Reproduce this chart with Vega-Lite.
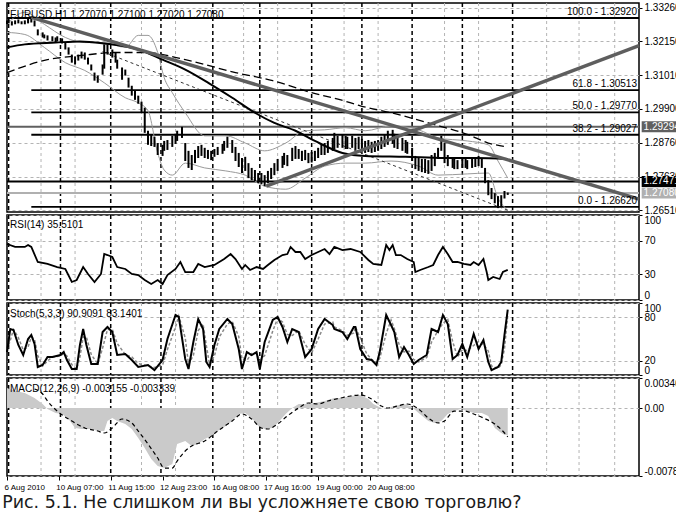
{
"$schema":"https://vega.github.io/schema/vega-lite/v6.json",
"background":"white",
"padding":{"left":2,"top":1,"right":0,"bottom":0},
"spacing":3,
"bounds":"flush",
"title":{"text":"Рис. 5.1. Не слишком ли вы усложняете свою торговлю?","orient":"bottom","anchor":"start","frame":"bounds","font":"DejaVu Sans","fontSize":17.4,"fontWeight":"normal","color":"#1a1a1a","offset":2},
"config":{"view":{"stroke":"#000","strokeWidth":1.5},
"axis":{"labelFont":"Liberation Sans","labelFontSize":10,"labelColor":"#000","tickColor":"#000","tickSize":3,"labelPadding":2,"domain":false,"gridColor":"#b4b4b4","gridDash":[3,3],"gridWidth":1,"labelOverlap":false},
"title":{"font":"Liberation Sans","fontSize":10,"fontWeight":"normal","color":"#000"}},
"datasets":{
"vgrid":[{"t":21},{"t":42},{"t":83},{"t":104},{"t":146},{"t":167},{"t":208},{"t":229},{"t":270},{"t":291},{"t":333},{"t":353},{"t":375}],
"vsep":[{"t":1},{"t":33},{"t":64},{"t":95},{"t":127},{"t":156},{"t":188},{"t":219},{"t":250},{"t":281},{"t":312}],
"bars":[{"t":0,"h":1.3284,"l":1.3271},{"t":1,"h":1.3287,"l":1.3274},{"t":3,"h":1.3281,"l":1.3267},{"t":5,"h":1.3284,"l":1.3271},{"t":7,"h":1.3287,"l":1.3274},{"t":9,"h":1.3281,"l":1.3271},{"t":11,"h":1.3284,"l":1.3271},{"t":13,"h":1.3291,"l":1.3274},{"t":15,"h":1.3298,"l":1.3277},{"t":17,"h":1.3284,"l":1.3264},{"t":19,"h":1.3254,"l":1.3234},{"t":22,"h":1.3244,"l":1.3227},{"t":23,"h":1.3237,"l":1.3224},{"t":25,"h":1.3234,"l":1.3217},{"t":28,"h":1.3231,"l":1.3214},{"t":30,"h":1.3227,"l":1.321},{"t":31,"h":1.3231,"l":1.3214},{"t":34,"h":1.3224,"l":1.3207},{"t":36,"h":1.321,"l":1.3187},{"t":38,"h":1.3194,"l":1.317},{"t":40,"h":1.317,"l":1.3143},{"t":42,"h":1.3164,"l":1.3137},{"t":44,"h":1.317,"l":1.315},{"t":46,"h":1.318,"l":1.3157},{"t":48,"h":1.3177,"l":1.3153},{"t":50,"h":1.316,"l":1.3137},{"t":52,"h":1.3137,"l":1.3117},{"t":54,"h":1.311,"l":1.3083},{"t":56,"h":1.31,"l":1.3076},{"t":59,"h":1.3137,"l":1.3103},{"t":60,"h":1.3204,"l":1.3123},{"t":62,"h":1.3204,"l":1.317},{"t":65,"h":1.3187,"l":1.316},{"t":67,"h":1.3177,"l":1.3143},{"t":68,"h":1.3153,"l":1.3123},{"t":71,"h":1.3127,"l":1.3086},{"t":73,"h":1.312,"l":1.31},{"t":75,"h":1.3093,"l":1.306},{"t":77,"h":1.3066,"l":1.3033},{"t":79,"h":1.305,"l":1.3019},{"t":81,"h":1.3033,"l":1.3006},{"t":83,"h":1.3013,"l":1.2976},{"t":85,"h":1.2993,"l":1.2909},{"t":87,"h":1.2916,"l":1.2869},{"t":89,"h":1.2902,"l":1.2865},{"t":91,"h":1.2896,"l":1.2862},{"t":93,"h":1.2875,"l":1.2835},{"t":96,"h":1.2869,"l":1.2832},{"t":97,"h":1.2882,"l":1.2849},{"t":99,"h":1.2885,"l":1.2852},{"t":102,"h":1.2899,"l":1.2862},{"t":104,"h":1.2906,"l":1.2872},{"t":105,"h":1.2916,"l":1.2882},{"t":108,"h":1.2929,"l":1.2892},{"t":110,"h":1.2875,"l":1.2815},{"t":112,"h":1.2849,"l":1.2792},{"t":114,"h":1.2835,"l":1.2785},{"t":116,"h":1.2852,"l":1.2808},{"t":118,"h":1.2865,"l":1.2825},{"t":120,"h":1.2869,"l":1.2832},{"t":122,"h":1.2859,"l":1.2825},{"t":124,"h":1.2852,"l":1.2822},{"t":126,"h":1.2849,"l":1.2818},{"t":128,"h":1.2855,"l":1.2829},{"t":130,"h":1.2862,"l":1.2835},{"t":133,"h":1.2872,"l":1.2839},{"t":134,"h":1.2882,"l":1.2849},{"t":136,"h":1.2896,"l":1.2859},{"t":139,"h":1.2885,"l":1.2842},{"t":141,"h":1.2862,"l":1.2815},{"t":143,"h":1.2842,"l":1.2795},{"t":145,"h":1.2825,"l":1.2775},{"t":147,"h":1.2829,"l":1.2782},{"t":149,"h":1.2808,"l":1.2758},{"t":151,"h":1.2792,"l":1.2751},{"t":153,"h":1.2785,"l":1.2748},{"t":155,"h":1.2775,"l":1.2741},{"t":157,"h":1.2775,"l":1.2738},{"t":159,"h":1.2768,"l":1.2731},{"t":161,"h":1.2782,"l":1.2741},{"t":163,"h":1.2792,"l":1.2755},{"t":165,"h":1.2808,"l":1.2768},{"t":167,"h":1.2822,"l":1.2782},{"t":170,"h":1.2832,"l":1.2792},{"t":171,"h":1.2842,"l":1.2802},{"t":173,"h":1.2835,"l":1.2798},{"t":176,"h":1.2859,"l":1.2815},{"t":178,"h":1.2865,"l":1.2822},{"t":180,"h":1.2855,"l":1.2822},{"t":182,"h":1.2849,"l":1.2815},{"t":184,"h":1.2852,"l":1.2818},{"t":186,"h":1.2842,"l":1.2808},{"t":188,"h":1.2845,"l":1.281},{"t":190,"h":1.2849,"l":1.2815},{"t":192,"h":1.2859,"l":1.2825},{"t":194,"h":1.2869,"l":1.2835},{"t":196,"h":1.2875,"l":1.2835},{"t":198,"h":1.2882,"l":1.2842},{"t":201,"h":1.2892,"l":1.2849},{"t":202,"h":1.2909,"l":1.2855},{"t":204,"h":1.2899,"l":1.2859},{"t":207,"h":1.2902,"l":1.2859},{"t":209,"h":1.2899,"l":1.2855},{"t":210,"h":1.2896,"l":1.2855},{"t":213,"h":1.2899,"l":1.2859},{"t":215,"h":1.2892,"l":1.2852},{"t":217,"h":1.2896,"l":1.2855},{"t":219,"h":1.2889,"l":1.2849},{"t":221,"h":1.2882,"l":1.2842},{"t":223,"h":1.2885,"l":1.2845},{"t":225,"h":1.2879,"l":1.2842},{"t":227,"h":1.2882,"l":1.2845},{"t":229,"h":1.2885,"l":1.2849},{"t":231,"h":1.2896,"l":1.2855},{"t":233,"h":1.2902,"l":1.2862},{"t":235,"h":1.2916,"l":1.2869},{"t":238,"h":1.2919,"l":1.2872},{"t":239,"h":1.2906,"l":1.2859},{"t":241,"h":1.2899,"l":1.2855},{"t":244,"h":1.2892,"l":1.2849},{"t":246,"h":1.2885,"l":1.2842},{"t":247,"h":1.2879,"l":1.2839},{"t":250,"h":1.2859,"l":1.2815},{"t":252,"h":1.2832,"l":1.2788},{"t":254,"h":1.2825,"l":1.2782},{"t":256,"h":1.2822,"l":1.2778},{"t":258,"h":1.2822,"l":1.2775},{"t":260,"h":1.2818,"l":1.2772},{"t":262,"h":1.2835,"l":1.2782},{"t":264,"h":1.2842,"l":1.2798},{"t":266,"h":1.2859,"l":1.2822},{"t":268,"h":1.2899,"l":1.2849},{"t":270,"h":1.2875,"l":1.2808},{"t":272,"h":1.2835,"l":1.2798},{"t":275,"h":1.2825,"l":1.2792},{"t":276,"h":1.2822,"l":1.2788},{"t":278,"h":1.2818,"l":1.2788},{"t":281,"h":1.2822,"l":1.2792},{"t":283,"h":1.2825,"l":1.2792},{"t":284,"h":1.2818,"l":1.2788},{"t":287,"h":1.2822,"l":1.2792},{"t":289,"h":1.2825,"l":1.2795},{"t":291,"h":1.2832,"l":1.2798},{"t":293,"h":1.2825,"l":1.2792},{"t":295,"h":1.2792,"l":1.2741},{"t":297,"h":1.2751,"l":1.2701},{"t":299,"h":1.2725,"l":1.2688},{"t":301,"h":1.2708,"l":1.2674},{"t":303,"h":1.2698,"l":1.2658},{"t":305,"h":1.2701,"l":1.2664},{"t":307,"h":1.2715,"l":1.269},{"t":309,"h":1.271,"l":1.2702}],
"ma":[{"t":0,"v":1.3194},{"t":11,"v":1.3204},{"t":30,"v":1.321},{"t":45,"v":1.3214},{"t":60,"v":1.3207},{"t":81,"v":1.3187},{"t":96,"v":1.3153},{"t":110,"v":1.312},{"t":126,"v":1.307},{"t":139,"v":1.3026},{"t":153,"v":1.2976},{"t":165,"v":1.2942},{"t":178,"v":1.2916},{"t":190,"v":1.2882},{"t":207,"v":1.2842},{"t":221,"v":1.2832},{"t":246,"v":1.2829},{"t":270,"v":1.2825},{"t":289,"v":1.2825},{"t":309,"v":1.2822}],
"ma2":[{"t":0,"v":1.311},{"t":25,"v":1.3153},{"t":46,"v":1.3167},{"t":67,"v":1.3177},{"t":85,"v":1.3177},{"t":110,"v":1.3153},{"t":141,"v":1.311},{"t":164,"v":1.3083},{"t":188,"v":1.3043},{"t":206,"v":1.3019},{"t":218,"v":1.2999},{"t":237,"v":1.2976},{"t":260,"v":1.2942},{"t":285,"v":1.2902},{"t":297,"v":1.2875},{"t":309,"v":1.2862}],
"chan":[{"t":59,"v":1.318},{"t":309,"v":1.2651}],
"band":[{"t":0,"u":1.3271,"d":1.3244},{"t":11,"u":1.3311,"d":1.3237},{"t":23,"u":1.3271,"d":1.3194},{"t":36,"u":1.3227,"d":1.3143},{"t":48,"u":1.321,"d":1.3117},{"t":60,"u":1.321,"d":1.3076},{"t":73,"u":1.3194,"d":1.3026},{"t":81,"u":1.3234,"d":1.3009},{"t":87,"u":1.3234,"d":1.2983},{"t":93,"u":1.3177,"d":1.2842},{"t":97,"u":1.3093,"d":1.2785},{"t":102,"u":1.3043,"d":1.2768},{"t":110,"u":1.2976,"d":1.2808},{"t":122,"u":1.2899,"d":1.2792},{"t":135,"u":1.2899,"d":1.2782},{"t":147,"u":1.2875,"d":1.2768},{"t":159,"u":1.2849,"d":1.2731},{"t":172,"u":1.2875,"d":1.2721},{"t":184,"u":1.2916,"d":1.2758},{"t":196,"u":1.2919,"d":1.2798},{"t":209,"u":1.2926,"d":1.2808},{"t":221,"u":1.2916,"d":1.2808},{"t":237,"u":1.2932,"d":1.2815},{"t":254,"u":1.2919,"d":1.2798},{"t":266,"u":1.2892,"d":1.2768},{"t":284,"u":1.2882,"d":1.2772},{"t":297,"u":1.2869,"d":1.2775},{"t":303,"u":1.2815,"d":1.2691},{"t":309,"u":1.2758,"d":1.2651}],
"trend":[{"id":"down","t":15,"v":1.3294},{"id":"down","t":390,"v":1.2688},{"id":"up","t":160,"v":1.2731},{"id":"up","t":390,"v":1.32}],
"fib":[{"lab":"100.0 - 1.32920","v":1.3292,"t0":0,"t1":390},{"lab":"61.8 - 1.30513","v":1.30513,"t0":15,"t1":390},{"lab":"50.0 - 1.29770","v":1.2977,"t0":15,"t1":390},{"lab":"38.2 - 1.29027","v":1.29027,"t0":15,"t1":390},{"lab":"0.0 - 1.26620","v":1.2662,"t0":15,"t1":390}],
"hl":[{"v":1.29294,"k":"a"},{"v":1.27471,"k":"b"},{"v":1.2708,"k":"c"}],
"tags":[{"v":1.29294,"lab":"1.29294","k":"a"},{"v":1.27471,"lab":"1.27471","k":"b"},{"v":1.2708,"lab":"1.27080","k":"c"}],
"rsi":[{"t":0,"v":65.9},{"t":5,"v":62.4},{"t":11,"v":62.4},{"t":13,"v":64.7},{"t":15,"v":62.4},{"t":19,"v":44.7},{"t":25,"v":42.4},{"t":31,"v":38.8},{"t":36,"v":36.5},{"t":40,"v":21.2},{"t":43,"v":23.5},{"t":47,"v":38.8},{"t":50,"v":30.6},{"t":54,"v":21.2},{"t":58,"v":30.6},{"t":60,"v":54.1},{"t":62,"v":52.9},{"t":65,"v":50.6},{"t":68,"v":38.8},{"t":73,"v":36.5},{"t":77,"v":30.6},{"t":81,"v":29.4},{"t":85,"v":23.5},{"t":89,"v":18.8},{"t":93,"v":23.5},{"t":96,"v":18.8},{"t":99,"v":29.4},{"t":104,"v":36.5},{"t":107,"v":44.7},{"t":110,"v":32.9},{"t":115,"v":32.9},{"t":118,"v":42.4},{"t":122,"v":38.8},{"t":128,"v":41.2},{"t":134,"v":48.2},{"t":138,"v":54.1},{"t":141,"v":48.2},{"t":145,"v":36.5},{"t":147,"v":41.2},{"t":150,"v":35.3},{"t":154,"v":38.8},{"t":158,"v":36.5},{"t":161,"v":41.2},{"t":165,"v":47.1},{"t":170,"v":52.9},{"t":173,"v":54.1},{"t":175,"v":62.4},{"t":178,"v":56.5},{"t":181,"v":56.5},{"t":184,"v":48.2},{"t":188,"v":52.9},{"t":192,"v":56.5},{"t":196,"v":60},{"t":199,"v":54.1},{"t":202,"v":62.4},{"t":207,"v":58.8},{"t":212,"v":60},{"t":218,"v":56.5},{"t":223,"v":47.1},{"t":226,"v":42.4},{"t":231,"v":41.2},{"t":234,"v":64.7},{"t":236,"v":58.8},{"t":238,"v":64.7},{"t":240,"v":52.9},{"t":243,"v":52.9},{"t":247,"v":48.2},{"t":251,"v":44.7},{"t":252,"v":32.9},{"t":255,"v":35.3},{"t":260,"v":38.8},{"t":263,"v":41.2},{"t":266,"v":52.9},{"t":269,"v":62.4},{"t":272,"v":54.1},{"t":275,"v":44.7},{"t":278,"v":44.7},{"t":282,"v":42.4},{"t":286,"v":41.2},{"t":288,"v":44.7},{"t":291,"v":41.2},{"t":294,"v":48.2},{"t":296,"v":32.9},{"t":297,"v":23.5},{"t":300,"v":27.1},{"t":304,"v":24.7},{"t":306,"v":32.9},{"t":309,"v":35.5}],
"stoch":[{"t":0,"k":31.9,"d":35},{"t":2,"k":63.9,"d":47.9},{"t":4,"k":62.5,"d":63.2},{"t":7,"k":41.7,"d":52.1},{"t":10,"k":27.8,"d":34.8},{"t":13,"k":50,"d":38.9},{"t":15,"k":55.6,"d":52.8},{"t":17,"k":43.1,"d":49.4},{"t":19,"k":11.1,"d":27.1},{"t":22,"k":13.9,"d":12.5},{"t":25,"k":25,"d":19.5},{"t":28,"k":25,"d":25},{"t":33,"k":27.8,"d":26.4},{"t":35,"k":31.9,"d":29.9},{"t":37,"k":20.8,"d":26.4},{"t":40,"k":8.3,"d":14.6},{"t":43,"k":8.3,"d":8.3},{"t":45,"k":41.7,"d":25},{"t":47,"k":63.9,"d":52.8},{"t":49,"k":41.7,"d":52.8},{"t":52,"k":15.3,"d":28.5},{"t":56,"k":15.3,"d":15.3},{"t":59,"k":59.7,"d":37.5},{"t":62,"k":66.7,"d":63.2},{"t":65,"k":59.7,"d":63.2},{"t":68,"k":27.8,"d":43.8},{"t":73,"k":29.2,"d":28.5},{"t":77,"k":20.8,"d":25},{"t":81,"k":11.1,"d":16},{"t":87,"k":13.9,"d":12.5},{"t":91,"k":6.9,"d":10.4},{"t":96,"k":20.8,"d":13.9},{"t":99,"k":50,"d":35.4},{"t":104,"k":83.3,"d":66.7},{"t":106,"k":80.6,"d":82},{"t":110,"k":22.2,"d":51.4},{"t":112,"k":8.3,"d":15.3},{"t":115,"k":45.8,"d":27.1},{"t":118,"k":77.8,"d":61.8},{"t":121,"k":63.9,"d":70.8},{"t":123,"k":18.1,"d":41},{"t":125,"k":11.1,"d":14.6},{"t":128,"k":41.7,"d":26.4},{"t":131,"k":63.9,"d":52.8},{"t":136,"k":77.8,"d":70.8},{"t":139,"k":70.8,"d":74.3},{"t":143,"k":36.1,"d":53.5},{"t":145,"k":8.3,"d":22.2},{"t":148,"k":31.9,"d":20.1},{"t":151,"k":27.8,"d":29.9},{"t":154,"k":31.9,"d":29.9},{"t":156,"k":8.3,"d":20.1},{"t":159,"k":45.8,"d":27.1},{"t":164,"k":76.4,"d":61.1},{"t":167,"k":80.6,"d":78.5},{"t":170,"k":66.7,"d":73.6},{"t":173,"k":45.8,"d":56.3},{"t":176,"k":63.9,"d":54.9},{"t":180,"k":59.7,"d":61.8},{"t":184,"k":25,"d":42.4},{"t":188,"k":36.1,"d":30.6},{"t":192,"k":63.9,"d":50},{"t":196,"k":77.8,"d":70.8},{"t":201,"k":69.4,"d":73.6},{"t":202,"k":63.9,"d":66.7},{"t":207,"k":59.7,"d":61.8},{"t":210,"k":50,"d":54.9},{"t":214,"k":66.7,"d":58.3},{"t":215,"k":66.7,"d":66.7},{"t":218,"k":36.1,"d":51.4},{"t":222,"k":22.2,"d":29.2},{"t":225,"k":20.8,"d":21.5},{"t":228,"k":13.9,"d":17.4},{"t":230,"k":31.9,"d":22.9},{"t":234,"k":83.3,"d":57.6},{"t":237,"k":69.4,"d":76.4},{"t":239,"k":59.7,"d":64.6},{"t":242,"k":25,"d":42.4},{"t":245,"k":38.9,"d":31.9},{"t":248,"k":27.8,"d":33.3},{"t":251,"k":15.3,"d":21.5},{"t":254,"k":20.8,"d":18.1},{"t":259,"k":27.8,"d":24.3},{"t":262,"k":63.9,"d":45.8},{"t":266,"k":59.7,"d":61.8},{"t":269,"k":83.3,"d":71.5},{"t":272,"k":70.8,"d":77.1},{"t":275,"k":22.2,"d":46.5},{"t":278,"k":27.8,"d":25},{"t":281,"k":43.1,"d":35.4},{"t":284,"k":25,"d":34},{"t":288,"k":56.9,"d":41},{"t":291,"k":36.1,"d":46.5},{"t":294,"k":48.6,"d":42.4},{"t":297,"k":18.1,"d":33.3},{"t":299,"k":6.9,"d":12.5},{"t":303,"k":11.1,"d":9},{"t":305,"k":18.1,"d":14.6},{"t":307,"k":55.6,"d":36.8},{"t":309,"k":90.9,"d":83.1}],
"macd":[{"t":0,"v":0.00231},{"t":5,"v":0.00197},{"t":11,"v":0.00173},{"t":17,"v":0.00116},{"t":22,"v":0.00046},{"t":25,"v":-0.00012},{"t":30,"v":-0.00058},{"t":34,"v":-0.00069},{"t":38,"v":-0.00127},{"t":42,"v":-0.00231},{"t":46,"v":-0.00243},{"t":52,"v":-0.00243},{"t":56,"v":-0.00266},{"t":60,"v":-0.00266},{"t":62,"v":-0.0015},{"t":65,"v":-0.00116},{"t":68,"v":-0.0015},{"t":73,"v":-0.00185},{"t":77,"v":-0.00243},{"t":81,"v":-0.00347},{"t":85,"v":-0.00462},{"t":89,"v":-0.0059},{"t":93,"v":-0.0067},{"t":97,"v":-0.00694},{"t":102,"v":-0.00647},{"t":105,"v":-0.00416},{"t":110,"v":-0.00381},{"t":114,"v":-0.00439},{"t":118,"v":-0.00416},{"t":122,"v":-0.00358},{"t":126,"v":-0.00324},{"t":130,"v":-0.00266},{"t":135,"v":-0.00208},{"t":139,"v":-0.0015},{"t":143,"v":-0.00069},{"t":147,"v":-0.00058},{"t":151,"v":-0.00116},{"t":155,"v":-0.00208},{"t":159,"v":-0.00243},{"t":164,"v":-0.00231},{"t":167,"v":-0.00173},{"t":172,"v":-0.00069},{"t":176,"v":0},{"t":180,"v":0.00046},{"t":184,"v":0.00046},{"t":190,"v":0.00058},{"t":196,"v":0.00081},{"t":202,"v":0.00116},{"t":207,"v":0.00116},{"t":212,"v":0.00139},{"t":218,"v":0.0015},{"t":223,"v":0.00104},{"t":226,"v":0.00046},{"t":231,"v":0},{"t":235,"v":0},{"t":239,"v":0.00023},{"t":245,"v":0.00046},{"t":249,"v":0.00023},{"t":254,"v":-0.00058},{"t":260,"v":-0.0015},{"t":264,"v":-0.00173},{"t":268,"v":-0.0015},{"t":272,"v":-0.00069},{"t":276,"v":-0.00035},{"t":280,"v":-0.00012},{"t":284,"v":-0.00035},{"t":288,"v":-0.00058},{"t":293,"v":-0.00058},{"t":297,"v":-0.00092},{"t":301,"v":-0.00231},{"t":305,"v":-0.0029},{"t":307,"v":-0.0031},{"t":309,"v":-0.00316}],
"signal":[{"t":17,"v":0.0022},{"t":22,"v":0.00162},{"t":25,"v":0.00081},{"t":31,"v":-0.00035},{"t":40,"v":-0.0015},{"t":48,"v":-0.00231},{"t":56,"v":-0.00266},{"t":60,"v":-0.00289},{"t":65,"v":-0.00231},{"t":71,"v":-0.00127},{"t":77,"v":-0.00173},{"t":81,"v":-0.00266},{"t":87,"v":-0.00416},{"t":93,"v":-0.00578},{"t":97,"v":-0.00694},{"t":102,"v":-0.00694},{"t":105,"v":-0.00613},{"t":110,"v":-0.00497},{"t":114,"v":-0.00439},{"t":122,"v":-0.00381},{"t":130,"v":-0.00266},{"t":139,"v":-0.0015},{"t":145,"v":-0.00069},{"t":151,"v":-0.00127},{"t":157,"v":-0.00231},{"t":161,"v":-0.00243},{"t":167,"v":-0.00185},{"t":173,"v":-0.00092},{"t":180,"v":0},{"t":186,"v":0.00058},{"t":192,"v":0.00046},{"t":198,"v":0.00081},{"t":206,"v":0.00116},{"t":212,"v":0.00139},{"t":218,"v":0.0015},{"t":225,"v":0.00104},{"t":231,"v":0.00023},{"t":235,"v":0},{"t":241,"v":0.00023},{"t":247,"v":0.00046},{"t":254,"v":-0.00012},{"t":260,"v":-0.00116},{"t":266,"v":-0.00173},{"t":270,"v":-0.0015},{"t":276,"v":-0.00035},{"t":282,"v":-0.00035},{"t":288,"v":-0.00069},{"t":294,"v":-0.00116},{"t":301,"v":-0.00185},{"t":307,"v":-0.00289},{"t":309,"v":-0.00334}]
},
"vconcat":[
{"width":632,"height":209,
"title":{"text":"EURUSD,H1  1.27070 1.27100 1.27020 1.27080","anchor":"start","frame":"group","orient":"top","baseline":"bottom","offset":-28,"dx":3},
"layer":[
{"data":{"name":"vgrid"},"mark":{"type":"rule","color":"#b4b4b4","strokeDash":[3,3],"strokeWidth":1},"encoding":{"x":{"field":"t","type":"quantitative","scale":{"domain":[0,390],"nice":false,"zero":false},"axis":null}}},
{"data":{"name":"vsep"},"mark":{"type":"rule","color":"#000","strokeDash":[4,3],"strokeWidth":1.5},"encoding":{"x":{"field":"t","type":"quantitative","scale":{"domain":[0,390],"nice":false,"zero":false},"axis":null}}},
{"encoding":{"x":{"field":"t","type":"quantitative","scale":{"domain":[0,390],"nice":false,"zero":false},"axis":null},
"y":{"type":"quantitative","title":null,"scale":{"domain":[1.2645,1.3342],"nice":false,"zero":false},"axis":{"orient":"right","values":[1.2651,1.2763,1.2876,1.299,1.3101,1.3215,1.3326],"format":".5f","grid":true,"title":null,"labelOverlap":false}}},
"layer":[
{"data":{"name":"hl"},"mark":{"type":"rule"},"encoding":{"x":null,"y":{"field":"v","type":"quantitative"},"color":{"field":"k","type":"nominal","scale":{"domain":["a","b","c"],"range":["#606060","#000000","#b0b0b0"]},"legend":null},"strokeWidth":{"field":"k","type":"nominal","scale":{"domain":["a","b","c"],"range":[2,2,1]},"legend":null}}},
{"data":{"name":"fib"},"mark":{"type":"rule","color":"#000","strokeWidth":1.8},"encoding":{"x":{"field":"t0","type":"quantitative"},"x2":{"field":"t1"},"y":{"field":"v","type":"quantitative"}}},
{"data":{"name":"band"},"mark":{"type":"line","color":"#9a9a9a","strokeWidth":1,"interpolate":"monotone"},"encoding":{"y":{"field":"u","type":"quantitative"}}},
{"data":{"name":"band"},"mark":{"type":"line","color":"#9a9a9a","strokeWidth":1,"interpolate":"monotone"},"encoding":{"y":{"field":"d","type":"quantitative"}}},
{"data":{"name":"chan"},"mark":{"type":"line","color":"#333","strokeWidth":1,"strokeDash":[3,3]},"encoding":{"y":{"field":"v","type":"quantitative"}}},
{"data":{"name":"ma2"},"mark":{"type":"line","color":"#000","strokeWidth":1.3,"strokeDash":[8,4],"interpolate":"monotone"},"encoding":{"y":{"field":"v","type":"quantitative"}}},
{"data":{"name":"ma"},"mark":{"type":"line","color":"#000","strokeWidth":2,"interpolate":"monotone"},"encoding":{"y":{"field":"v","type":"quantitative"}}},
{"data":{"name":"bars"},"mark":{"type":"rule","color":"#000","strokeWidth":2},"encoding":{"y":{"field":"h","type":"quantitative"},"y2":{"field":"l"}}},
{"data":{"name":"trend"},"mark":{"type":"line","color":"#5e5e5e","strokeWidth":3.5},"encoding":{"y":{"field":"v","type":"quantitative"},"detail":{"field":"id"}}},
{"data":{"name":"fib"},"mark":{"type":"text","align":"right","baseline":"bottom","dx":-2,"dy":-1,"fontSize":10,"font":"Liberation Sans","color":"#000"},"encoding":{"x":{"field":"t1","type":"quantitative"},"y":{"field":"v","type":"quantitative"},"text":{"field":"lab"}}}
]},
{"data":{"name":"tags"},"mark":{"type":"tick","orient":"horizontal","size":40,"thickness":11,"opacity":1},"encoding":{"x":{"datum":404,"type":"quantitative","scale":{"domain":[0,390],"nice":false,"zero":false},"axis":null},"y":{"field":"v","type":"quantitative","title":null,"axis":{"orient":"right","values":[1.2651,1.2763,1.2876,1.299,1.3101,1.3215,1.3326],"format":".5f","grid":true,"title":null,"labelOverlap":false}},"color":{"field":"k","type":"nominal","scale":{"domain":["a","b","c"],"range":["#8a8a8a","#3c3c3c","#000000"]},"legend":null}}},
{"data":{"name":"tags"},"mark":{"type":"text","align":"center","baseline":"middle","fontSize":10,"font":"Liberation Sans","color":"#fff"},"encoding":{"x":{"datum":404,"type":"quantitative","axis":null},"y":{"field":"v","type":"quantitative","title":null,"axis":{"orient":"right","values":[1.2651,1.2763,1.2876,1.299,1.3101,1.3215,1.3326],"format":".5f","grid":true,"title":null,"labelOverlap":false}},"text":{"field":"lab"}}}
]},
{"width":632,"height":85,
"title":{"text":"RSI(14) 35.5101","anchor":"start","frame":"group","orient":"top","baseline":"bottom","offset":-26,"dx":3},
"encoding":{"x":{"field":"t","type":"quantitative","scale":{"domain":[0,390],"nice":false,"zero":false},"axis":null}},
"layer":[
{"data":{"name":"vgrid"},"mark":{"type":"rule","color":"#b4b4b4","strokeDash":[3,3],"strokeWidth":1}},
{"data":{"name":"vsep"},"mark":{"type":"rule","color":"#000","strokeDash":[4,3],"strokeWidth":1.5}},
{"data":{"name":"rsi"},"mark":{"type":"line","color":"#000","strokeWidth":1.8},"encoding":{"y":{"field":"v","type":"quantitative","title":null,"scale":{"domain":[0,100],"nice":false},"axis":{"orient":"right","values":[0,30,70,100],"grid":true,"title":null,"labelFlush":true,"labelOverlap":false}}}}
]},
{"width":632,"height":72,
"title":{"text":"Stoch(5,3,3) 90.9091 83.1401","anchor":"start","frame":"group","orient":"top","baseline":"bottom","offset":-27,"dx":3},
"encoding":{"x":{"field":"t","type":"quantitative","scale":{"domain":[0,390],"nice":false,"zero":false},"axis":null},
"y":{"type":"quantitative","title":null,"scale":{"domain":[0,100],"nice":false},"axis":{"orient":"right","values":[0,20,80,100],"grid":true,"title":null,"labelFlush":true,"labelOverlap":false}}},
"layer":[
{"data":{"name":"vgrid"},"mark":{"type":"rule","color":"#b4b4b4","strokeDash":[3,3],"strokeWidth":1},"encoding":{"y":null}},
{"data":{"name":"vsep"},"mark":{"type":"rule","color":"#000","strokeDash":[4,3],"strokeWidth":1.5},"encoding":{"y":null}},
{"data":{"name":"stoch"},"mark":{"type":"line","color":"#888","strokeWidth":1.5,"strokeDash":[3,2]},"encoding":{"y":{"field":"d","type":"quantitative"}}},
{"data":{"name":"stoch"},"mark":{"type":"line","color":"#000","strokeWidth":2},"encoding":{"y":{"field":"k","type":"quantitative"}}}
]},
{"width":632,"height":98,
"title":{"text":"MACD(12,26,9) -0.003155 -0.003339","anchor":"start","frame":"group","orient":"top","baseline":"bottom","offset":-27,"dx":3},
"encoding":{"x":{"field":"t","type":"quantitative","scale":{"domain":[0,390],"nice":false,"zero":false},"axis":{"orient":"bottom","values":[0,32,64,96,128,160,192,224],"labelExpr":"['6 Aug 2010','10 Aug 07:00','11 Aug 15:00','12 Aug 23:00','16 Aug 08:00','17 Aug 16:00','19 Aug 00:00','20 Aug 08:00'][round(datum.value/32)]","labelAlign":"left","labelBaseline":"top","labelPadding":3,"labelOffset":-3,"labelFontSize":8,"tickSize":4,"grid":false,"title":null,"labelOverlap":false,"labelBound":false,"labelFlush":false}},
"y":{"type":"quantitative","title":null,"scale":{"domain":[-0.00786,0.003468],"nice":false,"zero":false},"axis":{"orient":"right","values":[-0.00786,0,0.003468],"labelExpr":"datum.value == 0 ? '0.00' : (datum.value > 0 ? '0.003468' : '-0.00786')","grid":true,"title":null,"labelFlush":true,"labelOverlap":false}}},
"layer":[
{"data":{"name":"vgrid"},"mark":{"type":"rule","color":"#b4b4b4","strokeDash":[3,3],"strokeWidth":1},"encoding":{"y":null}},
{"data":{"name":"vsep"},"mark":{"type":"rule","color":"#000","strokeDash":[4,3],"strokeWidth":1.5},"encoding":{"y":null}},
{"data":{"name":"macd"},"mark":{"type":"area","color":"#cacaca","opacity":1},"encoding":{"y":{"field":"v","type":"quantitative"},"y2":{"datum":0}}},
{"data":{"name":"signal"},"mark":{"type":"line","color":"#000","strokeWidth":1.2,"strokeDash":[4,3],"interpolate":"monotone"},"encoding":{"y":{"field":"v","type":"quantitative"}}}
]}
]
}
